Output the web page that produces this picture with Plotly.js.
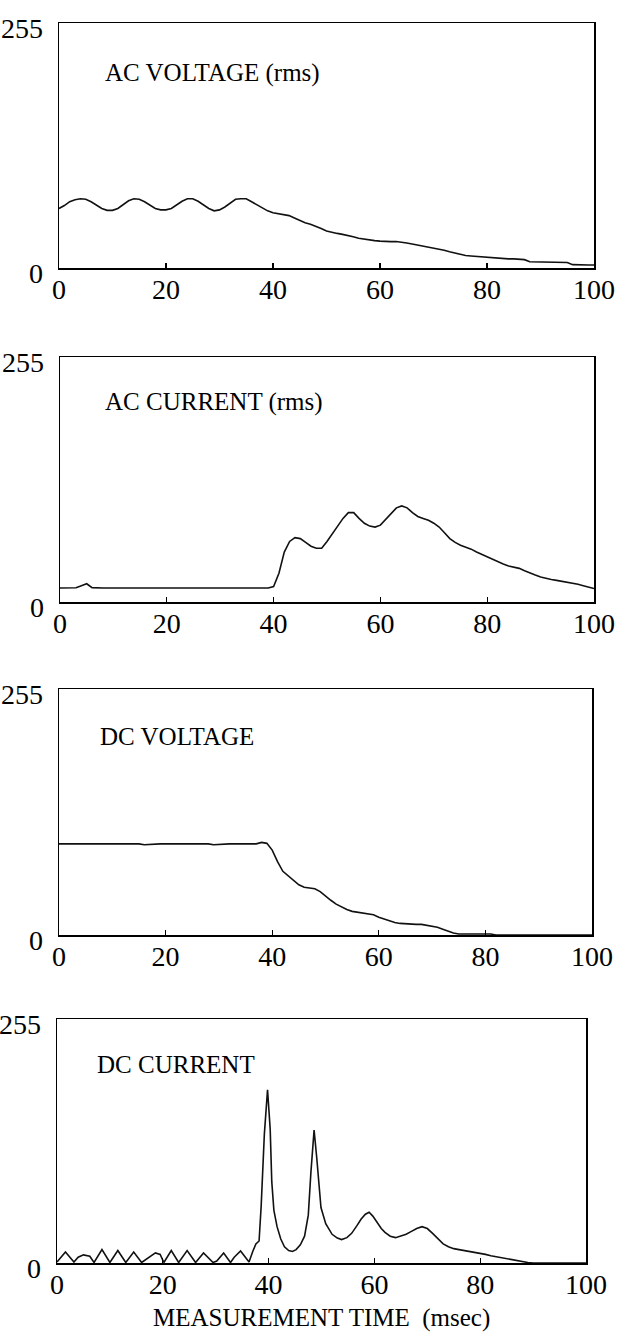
<!DOCTYPE html>
<html>
<head>
<meta charset="utf-8">
<script src="https://cdn.plot.ly/plotly-3.0.1.min.js"></script>
<style>html,body{margin:0;padding:0;background:#fff;}#chart{width:618px;height:1333px;}</style>
</head>
<body>
<div id="chart"></div>
<script>
// ---- data ----
var panelLabels = ["AC VOLTAGE (rms)", "AC CURRENT (rms)", "DC VOLTAGE", "DC CURRENT"];
var xTitle = "MEASUREMENT TIME\u00a0\u00a0(msec)";
var xTickVals = [0, 20, 40, 60, 80, 100];
var yTickVals = [0, 255];

var timeMs = [];
for (var i = 0; i <= 100; i++) timeMs.push(i);

var acVoltage = [62,65,69,71,72,71.5,69,65.5,62,60,60,62,66,70,72,71.5,69,65.5,62,60.5,60.5,62,65.5,69.5,72,72,69.5,65.5,62,59.5,60.5,63.5,67.5,71.5,72,72,69,66,62.5,59.5,57.5,56.5,55.5,54.5,52,49.5,47,45.5,43.5,41,38.5,37,36,35,34,32.5,31,30,29,28.5,28,27.5,27.5,27.5,27,26,25,24,23,22,21,20,18.5,17,15.5,14,13,12.5,12,11.5,11,10.5,10,9.5,9.5,9.5,9,8.7,6.5,6.5,6.5,6,6,6,6,5.8,3.5,3.2,3.2,3.2,3.2];

var acCurrent = [14.6,14.6,14.6,14.8,17,19,15,14.6,14.6,14.6,14.5,14.5,14.5,14.5,14.5,14.5,14.5,14.5,14.5,14.5,14.5,14.5,14.5,14.5,14.5,14.5,14.5,14.5,14.5,14.5,14.5,14.5,14.5,14.5,14.5,14.5,14.5,14.5,14.5,14.5,16,30,52,63,67,66,62,58,56,56,63,71,79,87,93,93,87,82,79,78,80,86,93,98,100,98,93,89,87,85,82,78,72,66,62,59,57,55,52,49.5,47,44,42,39.5,37.5,36,35,32.5,30,28,26,24.5,23.5,22.5,21.5,21,19.5,18.5,17,15.5,14];

var dcVoltage = [94.5,94.5,94.5,94.5,94.5,94.5,94.5,94.5,94.5,94.5,94.5,94.5,94.5,94.5,94.5,94.5,93.5,94,94.5,94.5,94.5,94.5,94.5,94.5,94.5,94.5,94.5,94.5,94.5,93.5,94,94.5,94.5,94.5,94.5,94.5,94.5,94.5,96,95,88,76,66,61,56.5,52,49.5,49,48,45,40,36,32,29,26.5,24.5,23.5,22.5,21.5,21,18.5,16.5,14.5,13,12,11.5,11.5,11,11,10,9,8,6,4,2,1,1,1,1,1,1,1,0,0,0,0,0,0,0,0,0,0,0,0,0,0,0,0,0,0,0];

var dcCurrentT = [0,1.6,3.2,4,5,6.2,7,8.5,10,11.5,13,14.5,16,17,18.6,19.5,20.2,21.6,23,24.6,26.2,27.7,29.5,30.2,31.5,32.8,33.5,34.7,35.8,36.3,37,37.6,38.2,38.6,39.2,39.8,40.3,40.6,41,41.6,42.3,43,43.8,44.5,45.2,46,46.8,47.5,48,48.6,49.1,49.5,49.9,50.8,52,53,53.8,54.8,55.7,56.7,57.5,58.3,59,59.7,60.5,61.3,62,63,64,65,66,67,68,69,70,71,72,73,74,75,76,77,78,79,80,81,82,83,84,85,86,87,88,89,90,100];
var dcCurrent  = [1,11.5,1,6,8.5,7,0.5,14,0.5,13,0.5,11.5,0.5,4,10.5,9,0.5,13,0.5,13,0.5,10.5,0.5,2,10.5,0.5,6,12.5,4,1,12,20,23,60,135,181,140,85,55,38,25,17,13,12,14,19,28,50,95,139,110,80,58,41,30,26,24.5,26.5,31,39,46,51,53,49,42,36,32,28,26.5,28,30,33,36,38,36,31,25,20,17,15,14,13,12,11.5,10.5,9,7.5,6.5,5.5,4.5,3.5,2,1,0.5,0,0];

// ---- layout geometry (pixels in the 618x1333 page) ----
var W = 618, H = 1333;
var boxes = [
  {l: 59, r: 594, t: 23, b: 268},
  {l: 60, r: 594, t: 357, b: 602},
  {l: 59, r: 592, t: 689, b: 935},
  {l: 57, r: 586, t: 1019, b: 1263}
];
var labelPos = [
  {x: 103, y: 73},
  {x: 103, y: 402},
  {x: 98, y: 736},
  {x: 95, y: 1064}
];
var FONT = "Liberation Serif, Times New Roman, serif";

var series = [
  {x: timeMs, y: acVoltage},
  {x: timeMs, y: acCurrent},
  {x: timeMs, y: dcVoltage},
  {x: dcCurrentT, y: dcCurrent}
];

var data = [];
var layout = {
  width: W, height: H,
  margin: {l: 0, r: 0, t: 0, b: 0},
  paper_bgcolor: "#fff", plot_bgcolor: "#fff",
  showlegend: false,
  font: {family: FONT, color: "#000"},
  annotations: []
};

for (var k = 0; k < 4; k++) {
  var n = k === 0 ? "" : String(k + 1);
  data.push({
    type: "scatter", mode: "lines",
    x: series[k].x, y: series[k].y,
    xaxis: "x" + n, yaxis: "y" + n,
    line: {color: "#111", width: 1.6},
    hoverinfo: "skip"
  });
  var bx = boxes[k];
  layout["xaxis" + n] = {
    domain: [bx.l / W, bx.r / W],
    anchor: "y" + n,
    range: [0, 100],
    showgrid: false, zeroline: false,
    showline: true, mirror: true, linecolor: "#000", linewidth: 1.5,
    tickmode: "array", tickvals: xTickVals,
    ticks: "inside", ticklen: 5, tickwidth: 1.2, tickcolor: "#000",
    ticklabelstandoff: -4,
    tickfont: {family: FONT, size: 28, color: "#000"},
    fixedrange: true
  };
  layout["yaxis" + n] = {
    domain: [1 - bx.b / H, 1 - bx.t / H],
    anchor: "x" + n,
    range: [0, 255],
    showgrid: false, zeroline: false,
    showline: true, mirror: true, linecolor: "#000", linewidth: 1.5,
    tickmode: "array", tickvals: yTickVals,
    ticks: "",
    ticklabelshift: 5,
    ticklabelstandoff: 9,
    tickfont: {family: FONT, size: 28, color: "#000"},
    fixedrange: true
  };
  layout.annotations.push({
    xref: "paper", yref: "paper",
    x: labelPos[k].x / W, y: 1 - labelPos[k].y / H,
    xanchor: "left", yanchor: "middle",
    text: panelLabels[k], showarrow: false,
    font: {family: FONT, size: 25, color: "#000"}
  });
}

layout.annotations.push({
  xref: "paper", yref: "paper",
  x: 321 / W, y: 1 - 1318 / H,
  xanchor: "center", yanchor: "middle",
  text: xTitle, showarrow: false,
  font: {family: FONT, size: 25, color: "#000"}
});

Plotly.newPlot("chart", data, layout, {displayModeBar: false, staticPlot: true});
</script>
</body>
</html>
